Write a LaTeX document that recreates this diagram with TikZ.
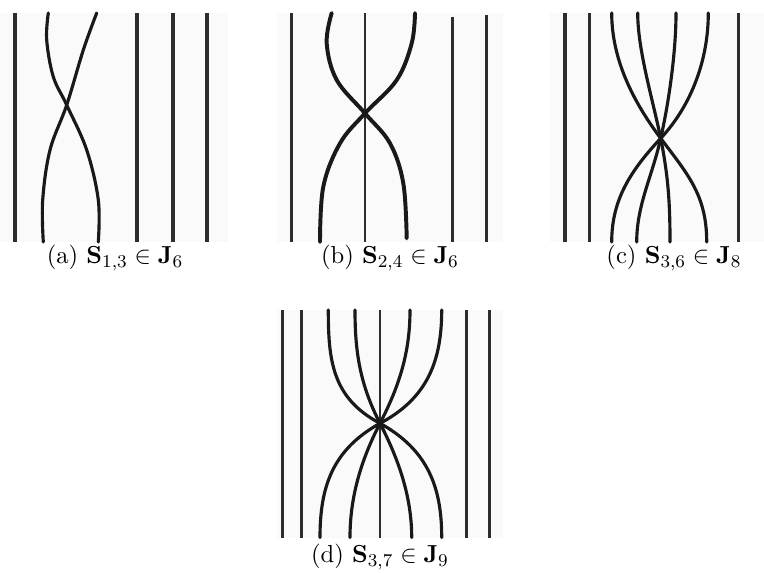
\documentclass[tikz,border=0pt]{standalone}
\definecolor{panelbg}{RGB}{250,250,250}
\definecolor{linegray}{RGB}{45,45,45}
\definecolor{strandcol}{RGB}{25,25,25}
\begin{document}
\begin{tikzpicture}[x=0.4444pt,y=-0.4444pt,
  bg/.style={fill=panelbg,draw=none},
  vline/.style={draw=linegray,line width=1.35pt},
  thinv/.style={draw=linegray,line width=1.0pt},
  strand/.style={draw=strandcol,line width=1.4pt,line cap=round},
  thickstrand/.style={draw=strandcol,line width=1.75pt,line cap=round},
  captext/.style={inner sep=0pt,anchor=center,font=\fontsize{10.95}{13.6}\selectfont}]
\useasboundingbox (0,0) rectangle (764,572);
% backgrounds
\fill[bg] (0,13) rectangle (228,242);
\fill[bg] (277,13) rectangle (503,242);
\fill[bg] (550,13) rectangle (764,242);
\fill[bg] (277,310) rectangle (503,537.5);

% ---------- panel (a)
\coordinate (cA) at (66.7,105);
\foreach \x in {15,137,173,207} \draw[vline] (\x,13) -- (\x,242);
\draw[strand] plot[smooth,tension=0.6] coordinates {(48.3,13) (46.7,40) (53.3,76.7) (cA) (86.7,150) (98.3,200) (98.3,242)};
\draw[strand] plot[smooth,tension=0.6] coordinates {(96.7,13) (83.3,50) (cA) (50,150) (42.7,200) (43.3,242)};
\node[captext] (capA) at (115,258) {(a) $\mathbf{S}_{1,3}\in\mathbf{J}_6$};

% ---------- panel (b)
\coordinate (cB) at (365,113.3);
\draw[vline] (291.7,13) -- (291.7,242);
\draw[thinv] (365,13) -- (365,242);
\draw[vline] (452.7,17) -- (452.7,242);
\draw[vline] (486.7,15) -- (486.7,242);
\draw[thickstrand] plot[smooth,tension=0.6] coordinates {(331.7,13) (326.7,43.3) (336.7,80) (cB) (390,143.3) (403.3,183.3) (406.7,238.3)};
\draw[thickstrand] plot[smooth,tension=0.6] coordinates {(415,13) (411.7,43.3) (396.7,80) (cB) (340,143.3) (323.3,186.7) (320,242)};
\node[captext] (capB) at (390,258) {(b) $\mathbf{S}_{2,4}\in\mathbf{J}_6$};

% ---------- panel (c)
\coordinate (cC) at (660.7,138.3);
\foreach \x in {565,589.3,738.3} \draw[vline] (\x,13) -- (\x,242);
\draw[strand] (611.7,13) .. controls (611.7,60) and (633.7,102.3) .. (cC)
  .. controls (687.7,174.3) and (706.7,195) .. (706.7,242);
\draw[strand] (637.7,13) .. controls (637.7,50) and (652.7,99.3) .. (cC)
  .. controls (668.5,177.5) and (670,205) .. (670,242);
\draw[strand] (676,13) .. controls (676,50) and (669.5,99.3) .. (cC)
  .. controls (651.9,177.3) and (636.7,205) .. (636.7,242);
\draw[strand] (708.3,13) .. controls (708.3,60) and (691.3,105.5) .. (cC)
  .. controls (630.1,171.2) and (611.7,200) .. (611.7,242);
\node[captext] (capC) at (674,258) {(c) $\mathbf{S}_{3,6}\in\mathbf{J}_8$};

% ---------- panel (d)
\coordinate (cD) at (380,423.3);
\foreach \x in {282.5,301.7,466.3,489.7} \draw[vline] (\x,310) -- (\x,537.5);
\draw[thinv] (380,310) -- (380,537.5);
\draw[strand] (328.3,310) .. controls (328.3,360) and (332,398) .. (cD)
  .. controls (428,450) and (441.7,487.3) .. (441.7,537.5);
\draw[strand] (355,310) .. controls (355,350) and (359.3,383.3) .. (cD)
  .. controls (400.7,463.3) and (411.7,500) .. (411.7,537.5);
\draw[strand] (410,310) .. controls (410,350) and (400.7,383.3) .. (cD)
  .. controls (359.3,463.3) and (350,500) .. (350,537.5);
\draw[strand] (441.7,310) .. controls (441.7,360) and (428,398) .. (cD)
  .. controls (332,450) and (320,487.3) .. (320,537.5);
\node[captext] (capD) at (380,557) {(d) $\mathbf{S}_{3,7}\in\mathbf{J}_9$};
\end{tikzpicture}
\end{document}
